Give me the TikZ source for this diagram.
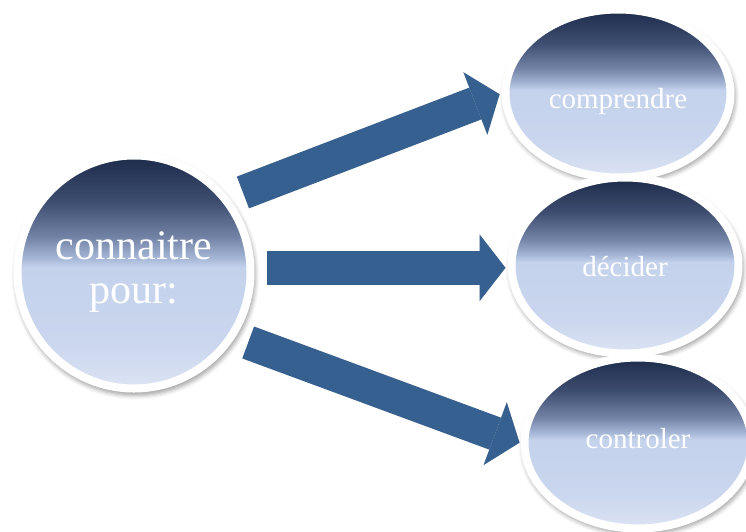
\documentclass[tikz,border=0pt]{standalone}
\usepackage{fontspec}
\setmainfont{Liberation Serif}
\usetikzlibrary{arrows.meta,shapes.geometric,shadows.blur,calc}

\pgfdeclarelayer{background}
\pgfsetlayers{background,main}

% palette
\definecolor{orbTop}{HTML}{1D2B4A}
\definecolor{orbUpper}{HTML}{3E4E70}
\definecolor{orbMidDark}{HTML}{7283A6}
\definecolor{orbMid}{HTML}{A5B6D6}
\definecolor{orbLight}{HTML}{C4D2EC}
\definecolor{orbLow}{HTML}{CAD6EE}
\definecolor{orbBottom}{HTML}{DCE4F3}
\definecolor{arrowblue}{HTML}{36608F}

% dark-to-light bubble fill (0bp = bottom, path mapped onto 25bp..75bp)
\pgfdeclareverticalshading{orbshade}{100bp}{%
  color(0bp)=(orbBottom); color(25bp)=(orbBottom); color(35bp)=(orbLow);
  color(51bp)=(orbLight); color(53bp)=(orbMid); color(57.5bp)=(orbMidDark);
  color(65bp)=(orbUpper); color(75bp)=(orbTop); color(100bp)=(orbTop)}

\tikzset{
  orbnode/.style={ellipse, draw=white, line width=8pt, shading=orbshade,
    inner sep=0pt,
    blur shadow={shadow xshift=1.5pt, shadow yshift=-3.5pt,
      shadow scale=1.03, shadow blur radius=4pt, shadow opacity=35}},
  biglbl/.style={text=white, align=center, font=\fontsize{42}{44}\selectfont},
  lbl/.style={text=white, inner sep=0pt, anchor=base, font=\fontsize{29}{31}\selectfont},
  bigarrow/.style={draw=arrowblue, line width=34pt,
    -{Triangle[length=26pt, width=67pt, line width=0pt]}},
  arrowshade/.style={draw=black, opacity=0.12, line width=34pt,
    -{Triangle[length=26pt, width=67pt, line width=0pt]}, shift={(1pt,3pt)}},
}

\begin{document}
\begin{tikzpicture}[x=1pt, y=-1pt]
  \useasboundingbox (0,0) rectangle (746,531);

  % bubbles
  \node[orbnode, biglbl, minimum width=233pt, minimum height=233pt] (conn) at (134,272) {connaitre\\pour:};
  \node[orbnode, minimum width=225pt, minimum height=168pt] (comp) at (618,93.5) {};
  \node[orbnode, minimum width=227pt, minimum height=176pt] (dec)  at (625,265.5) {};
  \node[orbnode, minimum width=227pt, minimum height=171pt] (ctrl) at (638,443) {};

  % labels
  \node[lbl] (comp-l) at ($(comp.center)+(0,14.5)$) {comprendre};
  \node[lbl] (dec-l)  at ($(dec.center)+(0,10.5)$) {décider};
  \node[lbl] (ctrl-l) at ($(ctrl.center)+(0,5)$) {controler};

  % block arrows behind the bubbles
  \begin{pgfonlayer}{background}
    \draw[arrowshade, shorten <=15pt, shorten >=2pt] (conn.38) -- (comp.west);
    \draw[arrowshade, shorten <=13pt, shorten >=2pt] (conn.2) -- (conn.2 -| dec.west);
    \draw[arrowshade, shorten <=14pt, shorten >=1pt] (conn.-33) -- (ctrl.west);
    \draw[bigarrow, shorten <=15pt, shorten >=2pt] (conn.38) -- (comp.west);
    \draw[bigarrow, shorten <=13pt, shorten >=2pt] (conn.2) -- (conn.2 -| dec.west);
    \draw[bigarrow, shorten <=14pt, shorten >=1pt] (conn.-33) -- (ctrl.west);
  \end{pgfonlayer}
\end{tikzpicture}
\end{document}
